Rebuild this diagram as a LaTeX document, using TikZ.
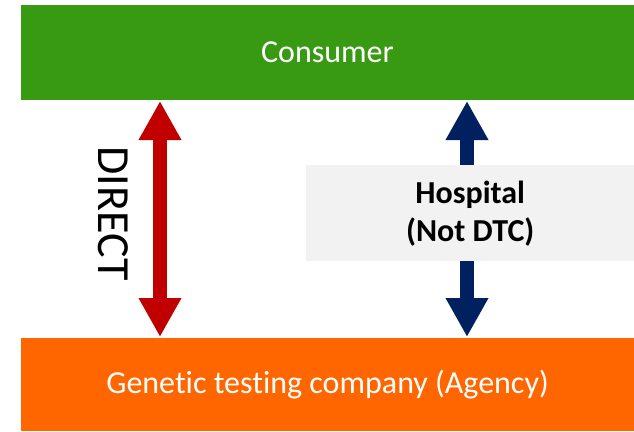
\documentclass[tikz,border=0pt]{standalone}
\usepackage{fontspec}
\setmainfont{Carlito}[Ligatures=NoCommon]
\usetikzlibrary{arrows.meta,calc}
\definecolor{consgreen}{RGB}{56,154,18}
\definecolor{agorange}{RGB}{255,102,0}
\definecolor{dirred}{RGB}{192,0,0}
\definecolor{hospblue}{RGB}{0,32,96}
\definecolor{hospgray}{RGB}{242,242,242}
\tikzset{
  bandbox/.style={draw=none, inner sep=0pt, outer sep=0pt, text=white,
    font=\fontsize{32}{38}\selectfont},
  bigarrow/.style={line width=14pt,
    {Triangle[width=40pt,length=39pt]}-{Triangle[width=40pt,length=39pt]}},
}
\begin{document}
\begin{tikzpicture}[x=1pt,y=-1pt]
\useasboundingbox (0,0) rectangle (634,431);
\node[bandbox, fill=consgreen, minimum width=613pt, minimum height=95pt, anchor=north west] (cons) at (21,5) {Consumer};
\node[bandbox, fill=agorange, minimum width=613pt, minimum height=93pt, anchor=north west] (gen) at (21,338) {Genetic testing company (Agency)};
\coordinate (rx) at (160,0);
\coordinate (bx) at (467,0);
\draw[bigarrow, dirred] ($(cons.south -| rx)+(0,1)$) -- ($(gen.north -| rx)+(0,-1)$);
\draw[bigarrow, hospblue] ($(cons.south -| bx)+(0,1)$) -- ($(gen.north -| bx)+(0,-1)$);
\node[rotate=-90, inner sep=0pt, font=\fontsize{46}{46}\selectfont] (direct) at (113.5,213.5) {DIRECT};
\node[fill=hospgray, minimum width=328pt, minimum height=96pt, inner sep=0pt, anchor=north west,
  align=center, font=\bfseries\fontsize{32}{38}\selectfont] (hosp) at (306,165) {Hospital\\(Not DTC)};
\end{tikzpicture}
\end{document}
